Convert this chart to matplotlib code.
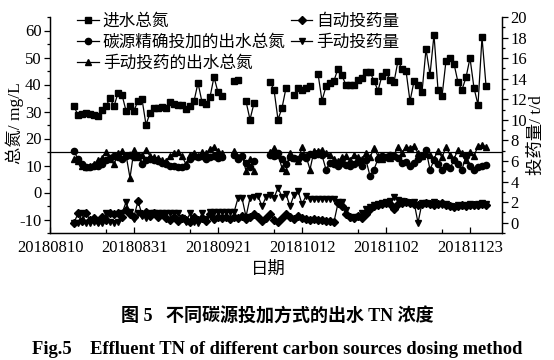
import numpy as np
import matplotlib
matplotlib.use("Agg")
import matplotlib.pyplot as plt
from matplotlib.ticker import MultipleLocator, FixedLocator

nan = np.nan
days = list(range(6, 110))

inflow_tn = [32.0, 28.6, 29.2, 29.4, 29.2, 28.8, 28.2, 30.7, 31.9, 35.0,
             31.9, 36.9, 36.2, 30.3, 31.9, 30.3, 34.0, 34.6, 25.1, 29.4,
             31.3, 31.3, 31.5, 31.3, 33.4, 32.8, 32.5, 32.5, 30.9, 31.9,
             33.8, 40.6, 33.5, 32.8, 35.3, 42.8, 37.1, 35.9, nan, nan,
             41.2, 41.8, nan, 33.8, 27.0, 33.1, nan, nan, nan, 40.9,
             38.1, 27.0, 31.3, 38.7, nan, 36.0, 38.7, 38.1, 38.7, 39.6,
             nan, 44.0, 34.0, 39.3, 40.6, 41.4, 45.9, 43.4, 39.7, 39.7,
             39.7, 41.8, 42.4, 44.6, 44.6, 41.4, 37.7, 43.3, 44.6, 41.8,
             40.9, 48.8, 45.7, 45.1, 33.8, 41.2, 39.7, 37.1, 53.1, 43.6,
             58.4, 38.1, 35.6, 48.8, 50.0, 47.7, 40.8, 38.1, 42.6, 49.8,
             38.7, 32.5, 57.5, 39.6]

precise_eff_tn = [15.2, 12.5, 10.5, 9.3, 9.5, 9.8, 10.0, 10.5, 12.0, 12.8,
                  13.5, 13.0, 12.5, 13.5, 14.0, 13.0, 13.5, 10.4, 12.0, 12.5,
                  12.0, 11.5, 11.0, 10.5, 10.0, 9.8, 9.5, 9.5, 10.0, 12.5,
                  13.5, 13.0, 13.5, 12.5, 13.0, 13.5, 12.8, 13.2, nan, nan,
                  14.0, 12.5, 13.5, 11.0, 9.5, 11.5, nan, nan, nan, 14.0,
                  13.5, 14.5, 12.5, 10.4, 13.0, 12.8, 12.5, 13.5, 12.8, 14.2,
                  14.0, 14.2, 13.8, 8.5, 11.0, 10.5, 10.0, 11.0, 10.2, 9.8,
                  10.5, 11.2, 10.0, 12.0, 6.1, 8.5, 12.5, 13.5, 13.0, 14.0,
                  13.5, 12.8, 11.0, 11.2, 10.0, 11.0, 12.5, 13.5, 15.8, 8.5,
                  12.0, 10.4, 8.5, 10.0, 9.0, 12.0, 10.4, 8.5, 13.5, 10.0,
                  8.5, 9.5, 9.8, 10.2]

manual_eff_tn = [12.5, 11.5, 10.0, 9.5, 10.0, 10.5, 12.0, 12.8, 15.0, 12.5,
                 10.4, 14.5, 15.2, 14.0, 5.4, 15.8, 13.0, 14.0, 15.8, 13.5,
                 13.0, 12.8, 12.0, 11.5, 13.5, 14.5, 15.0, 13.5, 10.4, 14.0,
                 14.5, 13.5, 15.0, 14.5, 16.0, 16.9, 15.5, 14.5, nan, nan,
                 15.2, 13.0, 14.0, 8.0, 12.5, 8.0, nan, nan, nan, 15.0,
                 16.4, 14.0, 9.1, 8.0, 14.5, 12.8, 11.5, 16.9, 13.5, 8.5,
                 15.4, 15.5, 15.8, 14.5, 14.0, 12.5, 11.5, 13.0, 13.5, 12.0,
                 14.0, 13.2, 12.5, 14.5, 13.0, 16.4, 13.5, 12.5, 13.0, 12.8,
                 14.0, 16.9, 14.5, 17.0, 16.5, 17.2, 14.5, 13.5, 14.2, 14.0,
                 12.5, 15.5, 13.0, 16.9, 14.0, 12.5, 15.8, 14.5, 12.0, 15.0,
                 13.5, 17.2, 17.5, 17.0]

auto_dose = [0.0, 0.9, 0.2, 0.9, 0.3, 0.5, 0.2, 0.6, 0.3, 0.9,
             0.8, 0.9, 0.6, 1.2, 0.8, 0.6, 2.1, 0.8, 1.0, 0.7,
             0.9, 0.6, 0.8, 0.5, 0.3, 0.6, 0.2, 0.5, 0.3, 0.1,
             0.6, 0.3, 0.5, 0.2, 0.8, 0.4, 0.6, 0.5, 0.6, 0.4,
             0.6, 0.5, 0.7, 0.4, 0.6, 0.8, 0.6, 0.2, 0.5, 0.8,
             0.3, 0.1, 0.5, 0.8, 0.6, 0.4, 0.7, 0.5, 0.4, 0.3,
             0.35, 0.3, 0.25, 0.2, 0.15, 0.1, 1.9, 1.6, 0.8, 0.6,
             0.5, 0.7, 0.5, 0.8, 1.3, 1.6, 1.7, 1.8, 1.9, 1.8,
             1.3, 1.8, 1.9, 2.0, 1.9, 1.8, 1.7, 1.8, 1.9, 1.8,
             1.7, 1.8, 1.9, 1.7, 1.6, 1.5, 1.6, 1.7, 1.6, 1.7,
             1.75, 1.7, 1.8, 1.75]

manual_dose = [0.0, 0.0, 0.9, 0.0, 0.0, 0.1, 0.0, 0.0, 0.9, 0.1,
               0.0, 0.1, 0.9, 2.0, 1.0, 0.4, 0.9, 0.7, 0.5, 0.9,
               0.9, 0.9, 0.9, 0.9, 0.9, 0.9, 0.9, 0.5, 0.1, 0.9,
               0.1, 0.0, 0.9, 0.4, 1.0, 1.0, 1.0, 1.0, 1.0, 1.0,
               1.0, 2.4, 2.4, 0.6, 2.4, 2.5, 2.6, 1.6, 2.5, 2.7,
               2.4, 3.4, 2.5, 2.8, 1.6, 2.7, 3.1, 1.8, 2.6, 2.3,
               2.3, 2.3, 2.3, 2.3, 2.3, 2.3, 2.0, 2.0, 1.2, 0.5,
               0.6, 0.6, 0.9, 1.3, 1.5, 1.7, 1.8, 1.9, 2.0, 2.1,
               2.5, 2.2, 2.1, 2.0, 1.9, 2.0, 0.0, 1.9, 1.9, 1.8,
               2.0, 1.8, 1.7, 1.8, 1.6, 1.5, 1.7, 1.6, 1.7, 1.8,
               1.7, 1.8, 1.9, 1.8]

tick_days = [0, 21, 42, 63, 84, 105]
tick_labels = ["20180810", "20180831", "20180921", "20181012", "20181102", "20181123"]
minor_days = [14, 35, 56, 77, 98]
ref_line = 15

plt.rcParams['font.family'] = ['Liberation Serif', 'Noto Sans CJK SC']
plt.rcParams['axes.unicode_minus'] = False

fig = plt.figure(figsize=(5.54, 3.60), dpi=100)
ax = fig.add_axes([50/554, 1-233/360, 452/554, 216/360])
ax2 = ax.twinx()

lw = 0.9
ms = 4.5
l1, = ax.plot(days, inflow_tn, color='k', lw=lw, marker='s', ms=ms, label='进水总氮')
l2, = ax.plot(days, precise_eff_tn, color='k', lw=lw, marker='o', ms=ms, label='碳源精确投加的出水总氮')
l3, = ax.plot(days, manual_eff_tn, color='k', lw=lw, marker='^', ms=ms+0.5, label='手动投药的出水总氮')
ax.axhline(ref_line, color='k', lw=0.9)
l4, = ax2.plot(days, auto_dose, color='k', lw=lw, marker='D', ms=ms-0.8, label='自动投药量')
l5, = ax2.plot(days, manual_dose, color='k', lw=lw, marker='v', ms=ms+0.5, label='手动投药量')

ax.set_xlim(0, 113)
ax.set_ylim(-15, 65)
ax2.set_ylim(-1, 20)

ax.xaxis.set_major_locator(FixedLocator(tick_days))
ax.set_xticklabels(tick_labels)
ax.xaxis.set_minor_locator(FixedLocator(minor_days))
ax.yaxis.set_major_locator(MultipleLocator(10))
ax.yaxis.set_minor_locator(MultipleLocator(5))
ax2.yaxis.set_major_locator(MultipleLocator(2))
ax2.yaxis.set_minor_locator(MultipleLocator(1))

for a in (ax, ax2):
    a.spines['top'].set_visible(False)
    for s in a.spines.values():
        s.set_linewidth(0.9)

ax.tick_params(axis='x', which='both', direction='in', labelsize=12, width=0.9, pad=5)
ax.tick_params(axis='x', which='major', length=4)
ax.tick_params(axis='x', which='minor', length=3)
ax.tick_params(axis='y', which='major', direction='out', length=4, width=0.9, labelsize=12, pad=2)
ax.tick_params(axis='y', which='minor', direction='out', length=2.5, width=0.9)
ax2.tick_params(axis='y', which='major', direction='out', length=4, width=0.9, labelsize=12, pad=2)
ax2.tick_params(axis='y', which='minor', direction='out', length=2.5, width=0.9)

fig.text(268/554, 1-270/360, '日期', ha='center', va='center', fontsize=12.5)
fig.text(15/554, 1-123/360, '总氮/ mg/L', ha='center', va='center', rotation=90, fontsize=12.5)
fig.text(537/554, 1-135/360, '投药量/ t/d', ha='center', va='center', rotation=90, fontsize=12.5)

leg = ax2.legend(handles=[l1, l2, l3, l4, l5], ncol=2, loc='upper left',
                 bbox_to_anchor=(0.045, 1.045), frameon=False, fontsize=12,
                 handlelength=1.3, handletextpad=0.25, labelspacing=0.3,
                 columnspacing=0.3, borderaxespad=0)

fig.text(0.5, 1-317/360, '图 5   不同碳源投加方式的出水 TN 浓度', ha='center', va='center',
         fontsize=13, fontweight='bold')
fig.text(0.5, 1-350/360, 'Fig.5    Effluent TN of different carbon sources dosing method',
         ha='center', va='center', fontsize=13.3, fontweight='bold')

fig.savefig('out.png', dpi=100)
